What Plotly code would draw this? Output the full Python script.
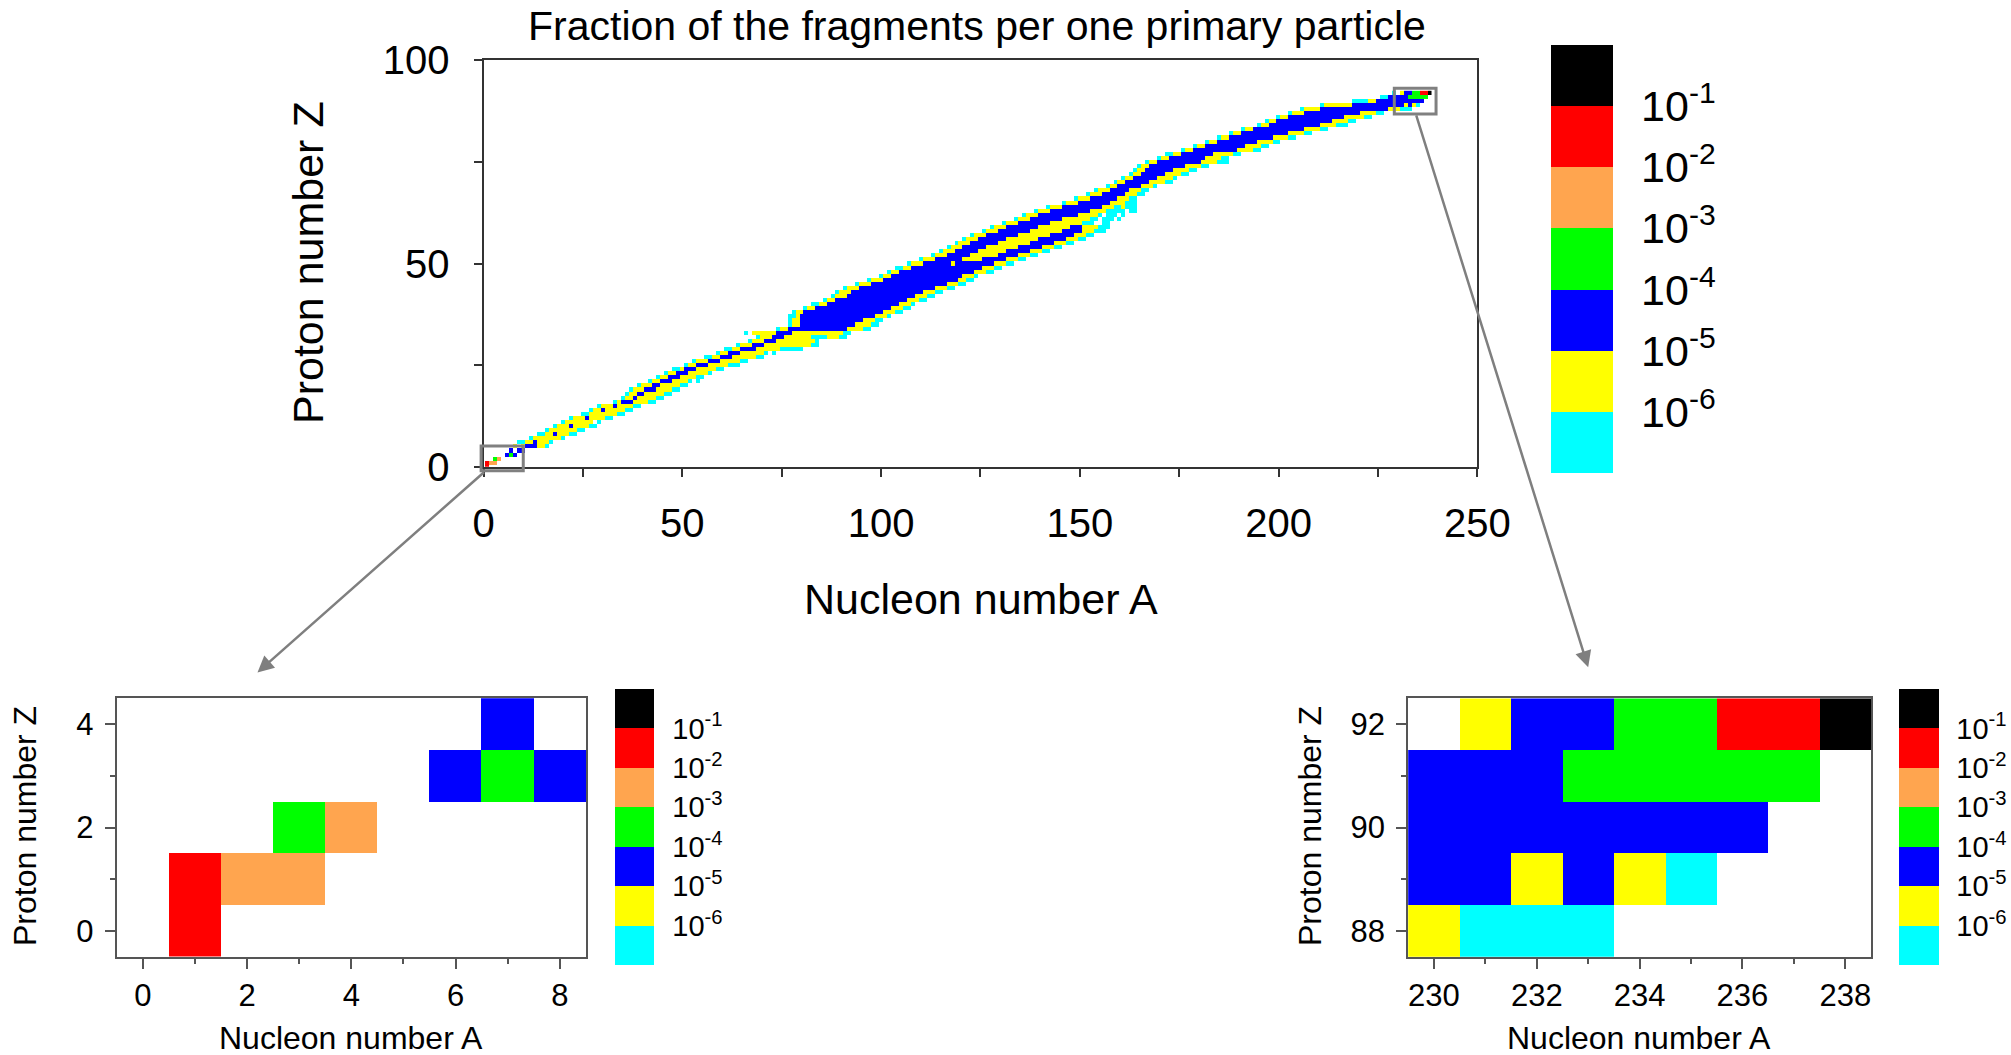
import re
import numpy as np
import plotly.graph_objects as go

W, H = 2011, 1055

# ---------------------------------------------------------------- data ----
# Level letters -> lower decade of the fragment fraction per primary particle
# c: 1e-7..1e-6  y: 1e-6..1e-5  b: 1e-5..1e-4  g: 1e-4..1e-3
# o: 1e-3..1e-2  r: 1e-2..1e-1  k: above 1e-1
level_decade = {"c": -7, "y": -6, "b": -5, "g": -4, "o": -3, "r": -2, "k": -1}

# One row per proton number Z: first nucleon number A of the row and the
# run-length coded levels along A ("." = no fragments).
row_z = list(range(93))
row_first_a = [
    1, 1, 3, 6, 7, 8, 9, 12, 14, 16,
    18, 20, 22, 25, 27, 29, 33, 35, 36, 37,
    39, 42, 44, 46, 48, 51, 53, 56, 59, 61,
    64, 67, 69, 66, 74, 77, 77, 77, 78, 81,
    83, 86, 88, 89, 91, 94, 97, 100, 102, 104,
    107, 110, 113, 115, 117, 119, 121, 123, 126, 128,
    131, 134, 136, 139, 142, 146, 149, 152, 154, 157,
    159, 161, 163, 164, 165, 167, 170, 172, 176, 179,
    182, 185, 188, 191, 195, 197, 200, 203, 206, 211,
    219, 226, 229,
]
row_runs = [
    "r1", "r1o2", "g1o1", "b1g1b1", "b1.1b2",
    "y1.1y1b3y2c1", "c2y2b1y3c1", "c1y7c1", "c2y2b1y3c2", "c1y7c2",
    "c1y3b1y4c2", "c1y7.1c1", "c1y3b1y4c2", "c2y7c2", "c1y2b1y5c2",
    "c1y3b1y4c2", "c1y1b3y4c2", "c1y2b1y5c2", "c1y2b2y5c2", "c1y3b3y4c2",
    "c1y3b2y5c2", "c1y2b3y4c1.1c1", "c1y2b3y4c2", "c1y2b3y5c1", "c2y1b3y5c2",
    "c1y2b3y5c3", "c1y3b3y5c2", "c2y2b3y6c2", "c1y2b3y6c1.1c1", "c2y2b4y6c6",
    "c1y3b3y12c2", "c1y3b3y10c1", "c1y3b3y7c4y3c2", "c1.1y6b4y13c2", "c1y2b15y4c2",
    "c1y2b14y4c2", "c1y2b16y3c2", "c2y1b19y3c1", "c1y2b20y3c2", "c1y2b19y3c2",
    "c2y2b18y3c1", "c1y2b18y3c2", "c1y3b17y3c2", "c1y3b18y3c2", "c1y3b19y3c2",
    "c1y3b19y3c2", "c1y3b19y2c2", "c1y2b18y3c1", "c1y2b19y3c2", "c2y2b18y3c2",
    "c1y3b7y1b10y3c2", "c1y3b7y5b6y3c2", "c1y3b6y7b5y3c2", "c1y3b6y7b6y3c2", "c1y3b6y8b6y3c2",
    "c1y3b7y8b6y3c2", "c1y3b7y8b7y3c2", "c1y3b8y8b6y3c2", "c1y3b8y8b5y3c3", "c1y3b8y8b3y4c3",
    "c1y3b8y8c3.2c2", "c1y3b8y7c2.1c3.1c1", "c1y3b10y5c1.1c3.1c1", "c1y3b10y4c5.1c2", "c1y3b10y3c2y1c3",
    "c1y3b8y4c3", "c1y3b7y3c2", "c1y3b6y3c2", "c1y3b5y3c2", "c1y2b6y3c1",
    "c1y2b6y4c2", "c1y2b6y4c1", "c1y2b6y4c2", "c1y2b7y4c2", "c1y2b9y4c2",
    "c1y2b11y4c3", "c1y2b9y4c2", "c2y2b8y5c2", "c1y2b11y4c2", "c1y2b10y4c2",
    "c1y2b10y4c2", "c1y2b11y4c2", "c1y2b12y4c2", "c1y2b13y4c2", "c1y2b13y4c3",
    "c1y2b14y4c2", "c1y2b14y5c2", "c1y3b14y4c2", "c1y4b17y3c3", "c1y7b13y1b1y1c1",
    "c4y2b12", "c2b5g5", "c1.1y1b2g2r2k1",
]

colorbar_exponents = [-6, -5, -4, -3, -2, -1]
level_colors = ["#00FFFF", "#FFFF00", "#0000FF", "#00FF00", "#FFA54F", "#FF0000", "#000000"]

nucleon_a = np.arange(0, 239)
proton_z = np.arange(0, 93)

# Zoom windows on the overview map (A range, Z range)
left_window = ((-0.6, 10.0), (-1.0, 5.1))
right_window = ((229.1, 239.6), (86.8, 93.1))

# ------------------------------------------------------------ fraction map --
grid = np.full((len(proton_z), len(nucleon_a)), np.nan)
for z, a0, runs in zip(row_z, row_first_a, row_runs):
    a = a0
    for letter, count in re.findall(r"([a-z.])(\d+)", runs):
        count = int(count)
        if letter != ".":
            grid[z, a:a + count] = level_decade[letter] + 0.5
        a += count

# discrete colour scale, one decade per colour
n = len(level_colors)
colorscale = []
for i, col in enumerate(level_colors):
    colorscale += [[i / n, col], [(i + 1) / n, col]]

FONT = "Arial, 'Liberation Sans', sans-serif"
tick_text = [f"10<sup>{e}</sup>" for e in colorbar_exponents]

# subplot boxes in pixels: (left, right, top, bottom)
main_box = (483.5, 1477.4, 60.3, 466.8)
left_box = (116.7, 586.0, 698.3, 956.7)
right_box = (1408.2, 1871.0, 698.3, 956.7)


def dom(box):
    l, r, t, b = box
    return [l / W, r / W], [1 - b / H, 1 - t / H]


def colorbar(left, right, top, bottom, size, gap):
    return dict(
        thickness=right - left, thicknessmode="pixels",
        len=bottom - top, lenmode="pixels",
        x=left / W, xanchor="left", xpad=0,
        y=1 - (top + bottom) / 2 / H, yanchor="middle", ypad=0,
        tickmode="array", tickvals=colorbar_exponents, ticktext=tick_text,
        tickfont=dict(family=FONT, size=size, color="black"),
        ticks="outside", ticklen=gap, tickcolor="rgba(0,0,0,0)",
        outlinewidth=0,
    )


fig = go.Figure()
fig.add_trace(go.Heatmap(
    x=nucleon_a, y=proton_z, z=grid, zmin=-7, zmax=0, colorscale=colorscale,
    xaxis="x", yaxis="y", hoverinfo="skip",
    colorbar=colorbar(1551, 1613, 45, 473, 43, 20),
))
fig.add_trace(go.Heatmap(
    x=nucleon_a[:10], y=proton_z[:6], z=grid[:6, :10], zmin=-7, zmax=0,
    colorscale=colorscale, xaxis="x2", yaxis="y2", hoverinfo="skip",
    colorbar=colorbar(615, 654, 689, 965, 29, 13),
))
fig.add_trace(go.Heatmap(
    x=nucleon_a[228:], y=proton_z[86:], z=grid[86:, 228:], zmin=-7, zmax=0,
    colorscale=colorscale, xaxis="x3", yaxis="y3", hoverinfo="skip",
    colorbar=colorbar(1899, 1939, 689, 965, 29, 12),
))


def axis(domain, rng, dtick, minor, tick0, size, ticklen, minorlen,
         anchor, color, standoff):
    return dict(
        domain=domain, range=rng, anchor=anchor, tick0=tick0, dtick=dtick,
        ticks="outside", ticklen=ticklen, tickwidth=2, tickcolor=color,
        minor=dict(dtick=minor, tick0=tick0, ticks="outside", ticklen=minorlen,
                   tickwidth=2, tickcolor=color),
        showline=True, linecolor=color, linewidth=2, mirror=True,
        showgrid=False, zeroline=False,
        tickfont=dict(family=FONT, size=size, color="black"),
        ticklabelstandoff=standoff,
    )


mx, my = dom(main_box)
lx, ly = dom(left_box)
rx, ry = dom(right_box)

fig.update_layout(
    width=W, height=H,
    margin=dict(l=0, r=0, t=0, b=0, autoexpand=False),
    paper_bgcolor="white", plot_bgcolor="white", showlegend=False,
    xaxis=axis(mx, [0, 250], 50, 25, 0, 40, 8, 8, "y", "#333333", 12),
    yaxis=axis(my, [0, 100], 50, 25, 0, 40, 8, 8, "x", "#333333", 16),
    xaxis2=axis(lx, [-0.5, 8.5], 2, 1, 0, 31, 10, 5, "y2", "#555555", 0),
    yaxis2=axis(ly, [-0.5, 4.5], 2, 1, 0, 31, 10, 5, "x2", "#555555", 5),
    xaxis3=axis(rx, [229.5, 238.5], 2, 1, 230, 31, 10, 5, "y3", "#555555", 0),
    yaxis3=axis(ry, [87.5, 92.5], 2, 1, 88, 31, 10, 5, "x3", "#555555", 5),
)


def main_px(a, z):
    l, r, t, b = main_box
    return l + a / 250 * (r - l), b - z / 100 * (b - t)


def inset_px(box, arange, zrange, a, z):
    l, r, t, b = box
    return (l + (a - arange[0]) / (arange[1] - arange[0]) * (r - l),
            b - (z - zrange[0]) / (zrange[1] - zrange[0]) * (b - t))


# zoom windows on the overview
for (a0, a1), (z0, z1) in (left_window, right_window):
    x0, y0 = main_px(a0, z0)
    x1, y1 = main_px(a1, z1)
    fig.add_shape(type="rect", xref="paper", yref="paper",
                  x0=x0 / W, x1=x1 / W, y0=1 - y0 / H, y1=1 - y1 / H,
                  line=dict(color="#808080", width=3))

# arrows from the windows to the enlarged maps
arrows = [
    (main_px(0.5, left_window[1][0]), inset_px(left_box, (-0.5, 8.5), (-0.5, 4.5), 2.2, 5.0)),
    (main_px(234.5, right_window[1][0]), inset_px(right_box, (229.5, 238.5), (87.5, 92.5), 233.0, 93.1)),
]
for (tx, ty), (hx, hy) in arrows:
    fig.add_annotation(x=hx / W, y=1 - hy / H, xref="paper", yref="paper",
                       ax=tx - hx, ay=ty - hy, axref="pixel", ayref="pixel",
                       text="", showarrow=True, arrowhead=2, arrowsize=1.3,
                       arrowwidth=2.5, arrowcolor="#7f7f7f", standoff=0, startstandoff=0)

# titles
texts = [
    ("Fraction of the fragments per one primary particle", 977, 26, 41, 0),
    ("Nucleon number A", 981, 599, 43, 0),
    ("Proton number Z", 308, 263, 43, -90),
    ("Nucleon number A", 351, 1038, 32, 0),
    ("Proton number Z", 25, 826, 32, -90),
    ("Nucleon number A", 1639, 1038, 32, 0),
    ("Proton number Z", 1310, 826, 32, -90),
]
for text, x, y, size, angle in texts:
    fig.add_annotation(x=x / W, y=1 - y / H, xref="paper", yref="paper",
                       text=text, showarrow=False, textangle=angle,
                       xanchor="center", yanchor="middle",
                       font=dict(family=FONT, size=size, color="black"))

fig.write_html("out.html")
